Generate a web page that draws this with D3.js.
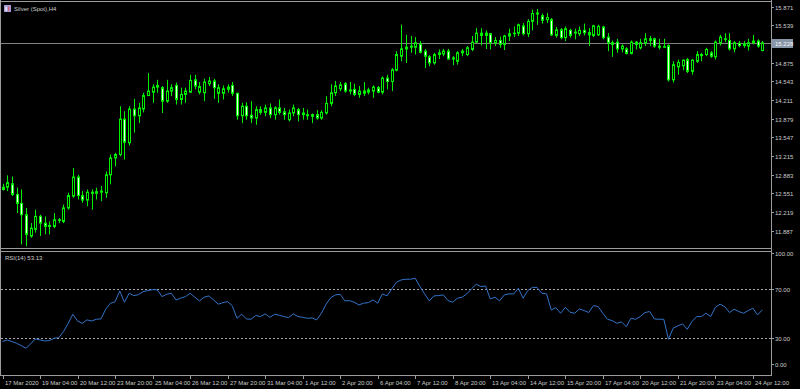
<!DOCTYPE html>
<html><head><meta charset="utf-8">
<script src="https://cdn.jsdelivr.net/npm/d3@7"></script>
<style>html,body{margin:0;padding:0;background:#000;overflow:hidden}svg{display:block}</style>
</head><body>
<svg id="chart" width="800" height="389"></svg>
<script>
const symbolTitle = "Silver (Spot),H4";
const rsiTitle = "RSI(14) 53.13";
const currentPrice = 15.228;
const currentPriceLabel = "15.228";

const openP = [12.66,12.66,12.72,12.53,12.37,12.17,11.79,11.91,12.14,12.02,11.96,11.96,12.08,12.05,12.29,12.50,12.84,12.51,12.43,12.57,
12.55,12.57,12.56,12.88,13.18,13.24,13.87,13.45,14.05,13.93,14.05,14.29,14.35,14.44,14.43,14.19,14.37,14.47,14.22,14.31,
14.35,14.57,14.35,14.34,14.50,14.55,14.33,14.33,14.40,14.47,14.33,13.93,14.10,13.94,13.89,14.04,13.99,14.07,13.95,14.07,
14.00,13.86,13.98,14.04,13.98,13.93,13.95,13.95,13.89,13.98,14.15,14.34,14.41,14.50,14.37,14.40,14.31,14.33,14.35,14.37,
14.43,14.35,14.60,14.54,14.74,14.99,15.12,15.15,15.15,15.21,15.08,14.98,14.87,15.02,15.03,15.08,14.94,14.90,15.05,15.02,
15.11,15.24,15.40,15.36,15.39,15.23,15.27,15.20,15.35,15.39,15.40,15.53,15.39,15.61,15.74,15.71,15.64,15.64,15.36,15.46,
15.32,15.45,15.40,15.39,15.45,15.41,15.36,15.37,15.51,15.33,15.23,15.24,15.12,15.12,15.04,15.24,15.14,15.23,15.30,15.30,
15.17,15.15,15.18,14.57,14.80,14.82,14.93,14.72,14.90,15.02,15.02,15.05,14.98,15.23,15.30,15.27,15.12,15.22,15.18,15.17,
15.23,15.26,15.09];
const highP = [12.72,12.87,12.85,12.65,12.62,12.29,12.02,12.26,12.17,12.14,12.05,12.20,12.11,12.35,12.56,13.00,12.88,12.59,12.62,12.62,
12.65,12.68,12.94,13.24,13.27,14.10,14.01,14.10,14.23,14.16,14.34,14.69,14.49,14.57,14.46,14.57,14.49,14.52,14.43,14.43,
14.66,14.66,14.53,14.59,14.62,14.59,14.49,14.47,14.49,14.53,14.34,14.16,14.17,14.19,14.10,14.10,14.13,14.15,14.10,14.22,
14.07,14.04,14.13,14.07,14.07,14.04,13.97,14.03,14.03,14.28,14.49,14.55,14.53,14.53,14.53,14.50,14.46,14.53,14.43,14.47,
14.46,14.63,14.66,14.78,15.08,15.55,15.37,15.35,15.33,15.26,15.12,15.01,15.05,15.11,15.12,15.12,14.99,15.08,15.12,15.17,
15.35,15.49,15.49,15.45,15.40,15.33,15.34,15.37,15.48,15.52,15.57,15.58,15.65,15.82,15.83,15.75,15.76,15.67,15.51,15.49,
15.52,15.48,15.48,15.52,15.57,15.49,15.55,15.55,15.53,15.40,15.27,15.30,15.20,15.15,15.27,15.26,15.30,15.40,15.35,15.32,
15.30,15.30,15.20,14.90,14.93,14.93,14.96,14.94,15.08,15.05,15.14,15.08,15.27,15.37,15.40,15.40,15.26,15.26,15.26,15.30,
15.37,15.29,15.26];
const lowP = [12.60,12.59,12.50,12.20,11.64,11.61,11.76,11.85,11.79,11.82,11.82,11.93,12.02,12.02,12.26,12.47,12.44,12.38,12.32,12.26,
12.44,12.41,12.47,12.71,13.03,13.21,13.15,13.40,13.63,13.80,13.99,14.28,14.16,14.34,13.98,14.16,14.28,14.13,14.13,14.16,
14.34,14.40,14.31,14.19,14.46,14.23,14.16,14.22,14.34,14.28,13.86,13.80,13.86,13.80,13.77,13.95,13.92,13.89,13.86,13.95,
13.86,13.83,13.92,13.83,13.86,13.86,13.80,13.86,13.86,13.95,14.10,14.28,14.37,14.34,14.31,14.28,14.25,14.28,14.31,14.25,
14.33,14.31,14.40,14.37,14.72,14.90,14.87,15.05,15.02,15.04,14.78,14.81,14.84,14.94,14.99,14.93,14.83,14.84,14.99,14.99,
15.08,15.23,15.18,15.12,15.11,15.17,15.14,15.10,15.26,15.33,15.35,15.36,15.33,15.45,15.55,15.57,15.58,15.35,15.32,15.29,
15.26,15.32,15.29,15.35,15.36,15.17,15.33,15.35,15.29,15.08,14.98,15.05,15.06,15.02,15.02,15.11,15.11,15.17,15.17,15.14,
15.11,15.14,14.54,14.52,14.66,14.74,14.69,14.66,14.87,14.90,14.99,14.96,14.93,15.18,15.24,15.09,15.06,15.15,15.14,15.09,
15.20,15.14,15.08];
const closeP = [12.62,12.74,12.53,12.37,12.17,11.82,11.93,12.14,12.02,11.96,11.98,12.08,12.07,12.29,12.51,12.84,12.51,12.43,12.57,12.55,
12.58,12.59,12.88,13.18,13.24,13.87,13.46,14.05,13.93,14.07,14.29,14.37,14.44,14.47,14.19,14.37,14.43,14.22,14.31,14.37,
14.56,14.46,14.45,14.53,14.55,14.43,14.43,14.41,14.44,14.33,13.93,14.10,13.93,13.89,14.04,13.99,14.07,13.95,14.07,13.99,
13.95,13.98,14.07,13.95,13.95,13.95,13.92,13.89,13.99,14.15,14.34,14.46,14.48,14.37,14.39,14.31,14.37,14.37,14.39,14.44,
14.35,14.60,14.54,14.75,15.02,15.12,15.15,15.17,15.23,15.06,14.99,14.87,15.02,15.05,15.08,14.94,14.96,15.05,15.08,15.14,
15.24,15.40,15.36,15.40,15.23,15.27,15.20,15.35,15.39,15.40,15.55,15.39,15.61,15.75,15.76,15.63,15.68,15.37,15.46,15.32,
15.48,15.36,15.42,15.45,15.41,15.37,15.53,15.52,15.32,15.23,15.20,15.12,15.17,15.04,15.24,15.20,15.23,15.30,15.27,15.17,
15.15,15.16,14.57,14.84,14.88,14.92,14.72,14.92,15.02,15.00,15.11,14.99,15.24,15.33,15.29,15.12,15.23,15.18,15.21,15.23,
15.26,15.17,15.228];

const rsiValues = [27.3,28.6,27.3,25.9,24.0,21.8,25.4,29.5,28.6,27.8,28.1,30.0,30.5,35.4,42.2,49.6,44.1,42.2,45.0,44.1,
45.5,45.8,53.7,58.6,59.7,68.6,59.4,66.7,64.8,65.6,68.1,68.9,69.7,69.5,64.0,65.9,66.7,61.3,62.7,64.0,
66.7,63.5,60.5,63.5,64.6,61.3,57.8,59.1,59.9,56.4,46.3,49.6,45.8,45.5,48.6,47.7,49.9,47.1,49.6,48.8,
47.7,46.9,49.9,47.7,47.1,46.3,46.6,45.0,50.4,57.8,63.2,65.4,65.9,60.5,60.7,59.4,57.2,58.6,59.1,61.3,
58.6,66.2,64.6,70.3,75.7,77.6,78.2,78.2,79.0,72.2,66.2,60.5,64.6,64.8,65.4,60.7,59.4,62.7,63.5,66.2,
70.3,74.1,72.2,72.7,62.1,63.5,60.5,65.4,66.2,66.2,70.8,62.7,68.9,71.6,71.4,66.7,66.2,53.1,55.0,50.4,
55.3,51.2,50.4,53.9,52.6,51.0,56.7,55.8,50.4,45.5,44.4,42.2,43.3,39.5,46.3,45.5,47.7,51.0,51.8,45.8,
45.5,45.5,29.2,38.2,40.1,41.7,37.3,43.6,47.7,47.7,50.4,47.7,55.3,57.8,55.8,51.0,53.7,51.8,50.4,52.6,
54.5,49.0,53.13];

const priceTickLabels = ["15.871","15.539","15.207","14.875","14.543","14.211","13.879","13.547","13.215","12.883","12.551","12.219","11.887"];
const rsiTickLabels = ["100.00","70.00","30.00","0.00"];
const rsiLevels = [70, 30];
const timeLabels = ["17 Mar 2020","19 Mar 04:00","20 Mar 12:00","23 Mar 20:00","25 Mar 04:00","26 Mar 12:00","27 Mar 20:00",
"31 Mar 04:00","1 Apr 12:00","2 Apr 20:00","6 Apr 04:00","7 Apr 12:00","8 Apr 20:00","13 Apr 04:00","14 Apr 12:00",
"15 Apr 20:00","17 Apr 04:00","20 Apr 12:00","21 Apr 20:00","23 Apr 04:00","24 Apr 12:00"];
const barsPerLabel = 8;

// ---------- layout ----------
const W = 800, H = 389;
const right = 771;
const mainTop = 1, mainBottom = 248;
const rsiTop = 251, rsiBottom = 375;
const FONT = "'Liberation Sans', Arial, sans-serif";
const txtCol = "#cccccc";
const frameCol = "#9c9c9c";
const bullCol = "#00f000";

const svg = d3.select("#chart");
svg.append("rect").attr("width", W).attr("height", H).attr("fill", "#000");

const n = closeP.length;
const x = d3.scaleLinear().domain([0, n - 1]).range([2.5, 2.5 + 4.69 * (n - 1)]);
const y = d3.scaleLinear().domain([11.887, 15.871]).range([230.6, 6.7]);
const r = d3.scaleLinear().domain([0, 100]).range([375, 252.5]);

const frame = svg.append("g").attr("stroke", frameCol).attr("stroke-width", 1).attr("shape-rendering", "crispEdges");
frame.append("line").attr("x1", 0.5).attr("x2", 0.5).attr("y1", 0).attr("y2", rsiBottom + 0.5);
frame.append("line").attr("x1", right + 0.5).attr("x2", right + 0.5).attr("y1", 0).attr("y2", rsiBottom + 0.5);
frame.append("line").attr("x1", 0).attr("x2", right + 1).attr("y1", mainTop + 0.5).attr("y2", mainTop + 0.5);
frame.append("line").attr("x1", 0).attr("x2", right + 1).attr("y1", mainBottom + 0.5).attr("y2", mainBottom + 0.5);
frame.append("line").attr("x1", 0).attr("x2", right + 1).attr("y1", rsiTop + 0.5).attr("y2", rsiTop + 0.5);
frame.append("line").attr("x1", 0).attr("x2", right + 1).attr("y1", rsiBottom + 0.5).attr("y2", rsiBottom + 0.5);

const pAxis = svg.append("g").attr("font-family", FONT).attr("font-size", 6).attr("fill", txtCol);
priceTickLabels.forEach(t => {
  const yy = Math.round(y(+t)) + 0.5;
  pAxis.append("line").attr("x1", right).attr("x2", right + 3).attr("y1", yy).attr("y2", yy)
    .attr("stroke", frameCol).attr("shape-rendering", "crispEdges");
  pAxis.append("text").attr("x", right + 4).attr("y", yy).attr("dy", "0.35em").text(t);
});

const cy = Math.round(y(currentPrice)) + 0.5;
svg.append("line").attr("x1", 1).attr("x2", right).attr("y1", cy).attr("y2", cy)
  .attr("stroke", "#808080").attr("shape-rendering", "crispEdges");

const candles = svg.append("g");
d3.range(n).forEach(i => {
  const cx = Math.round(x(i)) + 0.5;
  const o = openP[i], c = closeP[i];
  const bull = c >= o;
  candles.append("line").attr("x1", cx).attr("x2", cx)
    .attr("y1", y(highP[i])).attr("y2", y(lowP[i]))
    .attr("stroke", bullCol).attr("stroke-width", 1);
  const top = y(Math.max(o, c)), bot = y(Math.min(o, c));
  candles.append("rect").attr("x", cx - 1).attr("width", 2)
    .attr("y", top).attr("height", Math.max(0.6, bot - top))
    .attr("fill", bull ? "#000" : "#eaffea").attr("stroke", bullCol).attr("stroke-width", 1);
});

const boxG = svg.append("g");
boxG.append("rect").attr("x", right + 1).attr("y", cy - 4.5).attr("width", 21).attr("height", 9)
  .attr("fill", "#8895a6");
boxG.append("text").attr("x", right + 4).attr("y", cy).attr("dy", "0.35em")
  .attr("font-family", FONT).attr("font-size", 6).attr("fill", "#f4f7ff").text(currentPriceLabel);

svg.append("rect").attr("x", 4).attr("y", 5).attr("width", 7).attr("height", 7).attr("fill", "#a99bd8");
svg.append("rect").attr("x", 5.5).attr("y", 7).attr("width", 1.2).attr("height", 4).attr("fill", "#fff");
svg.append("rect").attr("x", 8.2).attr("y", 6.5).attr("width", 1.2).attr("height", 4.5).attr("fill", "#e06060");
svg.append("text").attr("x", 14).attr("y", 8.5).attr("dy", "0.35em")
  .attr("font-family", FONT).attr("font-size", 6).attr("fill", txtCol).text(symbolTitle);

svg.append("text").attr("x", 5).attr("y", 257.5).attr("dy", "0.35em")
  .attr("font-family", FONT).attr("font-size", 6).attr("fill", txtCol).text(rsiTitle);

rsiLevels.forEach(l => {
  const yy = Math.round(r(l)) + 0.5;
  svg.append("line").attr("x1", 1).attr("x2", right).attr("y1", yy).attr("y2", yy)
    .attr("stroke", "#a8a8a8").attr("stroke-dasharray", "2,2").attr("shape-rendering", "crispEdges");
});

const rAxis = svg.append("g").attr("font-family", FONT).attr("font-size", 6).attr("fill", txtCol);
rsiTickLabels.forEach(t => {
  const v = +t;
  let yy = Math.round(r(v)) + 0.5;
  if (v === 100) yy = 253.5;
  if (v === 0) yy = 364.5;
  rAxis.append("line").attr("x1", right).attr("x2", right + 3).attr("y1", yy).attr("y2", yy)
    .attr("stroke", frameCol).attr("shape-rendering", "crispEdges");
  rAxis.append("text").attr("x", right + 4).attr("y", yy).attr("dy", "0.35em").text(t);
});

const rsiLine = d3.line().x((d, i) => x(i)).y(d => r(d));
svg.append("path").datum(rsiValues).attr("d", rsiLine)
  .attr("fill", "none").attr("stroke", "#3273c8").attr("stroke-width", 1);

const tAxis = svg.append("g").attr("font-family", FONT).attr("font-size", 6).attr("fill", txtCol);
timeLabels.forEach((t, k) => {
  const xx = Math.round(x(k * barsPerLabel)) + 0.5;
  tAxis.append("line").attr("x1", xx).attr("x2", xx).attr("y1", rsiBottom).attr("y2", rsiBottom + 4)
    .attr("stroke", frameCol).attr("shape-rendering", "crispEdges");
  tAxis.append("text").attr("x", xx + 1.5).attr("y", 382.5).attr("dy", "0.35em").text(t);
});
</script>
</body></html>
